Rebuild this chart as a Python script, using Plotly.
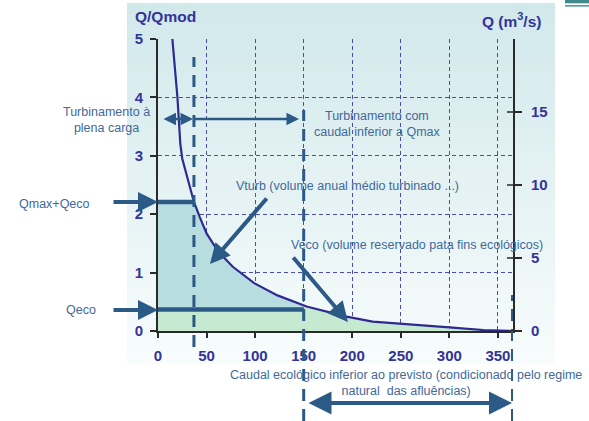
import plotly.graph_objects as go
import numpy as np

# ---------------- data ----------------
days = [12.2, 14.8, 18, 20, 21.5, 23, 25, 29, 37, 43, 50, 62, 77, 99, 123, 153, 174, 194, 221, 249, 300, 335, 365]
q_rel = [5.5, 5.0, 4.5, 4.0, 3.6, 3.2, 2.95, 2.7, 2.21, 1.95, 1.67, 1.36, 1.10, 0.82, 0.61, 0.42, 0.33, 0.245, 0.16, 0.13, 0.063, 0.017, 0.0]
q_eco = 0.37          # Qeco (relative)
q_max_eco = 2.21      # Qmax+Qeco (relative)
t_full = 37           # end of full-load turbining (days)
t_eco = 150           # end of full ecological flow (days)
t_end = 365
x_ticks = [0, 50, 100, 150, 200, 250, 300, 350]
y_ticks = [0, 1, 2, 3, 4, 5]
y2_ticks = [0, 5, 10, 15]
q_scale = 4.0         # Q (m3/s) per unit Q/Qmod

# ---------------- layout helpers ----------------
W, H = 589, 421
L, R, T, B = 158, 76, 39, 90
PW, PH = W - L - R, H - T - B
def px(x):
    return (x - L) / PW
def py(y):
    return (H - B - y) / PH

TXT = "#41699c"
DARK = "#2c5a86"
AX = "#33339a"
FONT = "Liberation Sans, Arial, sans-serif"

d = np.array(days, float)
q = np.array(q_rel, float)
q_at_eco = float(np.interp(t_eco, d, q))

fig = go.Figure()

# teal area (Vturb)
mask = (d >= t_full) & (d < t_eco)
tx = [0, 0] + list(d[mask]) + [t_eco, t_eco]
ty = [q_eco, q_max_eco] + list(q[mask]) + [q_at_eco, q_eco]
fig.add_trace(go.Scatter(x=tx, y=ty, fill="toself", fillcolor="#b8dde1",
                         mode="none", hoverinfo="skip", showlegend=False))
# green area (Veco)
mask2 = d > t_eco
gx = [0, 0, t_eco, t_eco] + list(d[mask2])
gy = [0, q_eco, q_eco, q_at_eco] + list(q[mask2])
fig.add_trace(go.Scatter(x=gx, y=gy, fill="toself", fillcolor="#c6e9d1",
                         mode="none", hoverinfo="skip", showlegend=False))
# duration curve
fig.add_trace(go.Scatter(x=days, y=q_rel, mode="lines",
                         line=dict(color="#2e2a91", width=2.2),
                         hoverinfo="skip", showlegend=False))
# level lines
fig.add_trace(go.Scatter(x=[0, t_full], y=[q_max_eco, q_max_eco], mode="lines",
                         line=dict(color=DARK, width=4.5), hoverinfo="skip", showlegend=False))
fig.add_trace(go.Scatter(x=[0, t_eco], y=[q_eco, q_eco], mode="lines",
                         line=dict(color=DARK, width=4.5), hoverinfo="skip", showlegend=False))
# secondary axis carrier
fig.add_trace(go.Scatter(x=[t_end], y=[0], yaxis="y2", mode="markers",
                         marker=dict(opacity=0), hoverinfo="skip", showlegend=False))

shapes = []
# gradient panel
n = 36
y0p, y1p = 3, 363
c0 = np.array([210, 233, 236]); c1 = np.array([248, 252, 252])
for i in range(n):
    a = y0p + (y1p - y0p) * i / n
    b = y0p + (y1p - y0p) * (i + 1) / n + 0.6
    c = c0 + (c1 - c0) * (i / (n - 1))
    shapes.append(dict(type="rect", xref="paper", yref="paper",
                       x0=px(127), x1=px(555), y0=py(b), y1=py(a),
                       fillcolor="rgb(%d,%d,%d)" % tuple(c.astype(int)),
                       line=dict(width=0), layer="below"))
# decoration top right
shapes.append(dict(type="rect", xref="paper", yref="paper", x0=px(565), x1=px(589),
                   y0=py(3.3), y1=py(0), fillcolor="#3f8b8d", line=dict(width=0)))
shapes.append(dict(type="rect", xref="paper", yref="paper", x0=px(565), x1=px(589),
                   y0=py(6.7), y1=py(5), fillcolor="#5aa0a2", line=dict(width=0)))
# dashed verticals
for xv, top, bot in [(t_full, 57, 347), (t_eco, 110, 421), (t_end, 295, 421)]:
    shapes.append(dict(type="line", xref="x", yref="paper", x0=xv, x1=xv,
                       y0=py(bot), y1=py(top),
                       line=dict(color=DARK, width=3, dash="12px,8px")))
# right axis ticks crossing inward
for v in y2_ticks:
    shapes.append(dict(type="line", xref="paper", yref="y2", x0=1 - 6 / PW, x1=1, y0=v, y1=v,
                       line=dict(color="#2a2a2a", width=1.5)))

ann = []
def text(x, y, s, size=12.5, color=TXT, xanchor="center", align="center"):
    ann.append(dict(xref="paper", yref="paper", x=px(x), y=py(y), text=s, showarrow=False,
                    xanchor=xanchor, yanchor="middle", align=align,
                    font=dict(family=FONT, size=size, color=color)))

text(165, 16, "<b>Q/Qmod</b>", size=15.5, color=AX)
text(511, 20, "<b>Q (m<sup>3</sup>/s)</b>", size=15.5, color=AX)
text(106, 120.5, "Turbinamento à<br>plena carga")
text(377, 123.5, "Turbinamento com<br>caudal inferior a Qmax")
text(54.5, 204, "Qmax+Qeco")
text(80.5, 310, "Qeco")
text(347.5, 185.7, "Vturb (volume anual médio turbinado ...)")
text(416.5, 245, "Veco (volume reservado pata fins ecológicos)")
text(406, 383, "Caudal ecológico inferior ao previsto (condicionado pelo regime<br>natural  das afluências)")

def arrow(hx, hy, tx_, ty_, width=4, size=1.0, head=2, both=False):
    a = dict(xref="paper", yref="paper", x=px(hx), y=py(hy), ax=tx_ - hx, ay=ty_ - hy,
             text="", showarrow=True, arrowhead=head, arrowsize=size, arrowwidth=width,
             arrowcolor=DARK)
    if both:
        a.update(arrowside="end+start", startarrowhead=head, startarrowsize=size)
    ann.append(a)

arrow(158, 202, 112, 202)
arrow(158, 310, 112, 310)
arrow(210, 264, 268, 197)
arrow(348, 322, 292, 256)
arrow(193, 119, 162, 119, width=2.5, both=True)
arrow(299, 119, 193, 119, width=2.5)
arrow(512, 403, 307, 403, width=4, size=1.15, both=True)

axis_font = dict(family=FONT, size=15, color=AX, weight="bold")
fig.update_layout(
    width=W, height=H,
    margin=dict(l=L, r=R, t=T, b=B, pad=0),
    paper_bgcolor="white", plot_bgcolor="rgba(0,0,0,0)",
    shapes=shapes, annotations=ann,
    xaxis=dict(range=[0, 365.5], tickvals=x_ticks, showgrid=True,
               gridcolor="#4b4bb0", griddash="4px,3px", gridwidth=1,
               showline=True, linecolor="#2a2a2a", linewidth=2, zeroline=False,
               ticks="outside", ticklen=5, tickcolor="#2a2a2a", tickwidth=1.5,
               tickfont=axis_font, ticklabelstandoff=5),
    yaxis=dict(range=[0, 5], tickvals=y_ticks, showgrid=True,
               gridcolor="#4b4bb0", griddash="4px,3px", gridwidth=1,
               showline=True, linecolor="#2a2a2a", linewidth=2, zeroline=False,
               ticks="outside", ticklen=6, tickcolor="#2a2a2a", tickwidth=1.5,
               tickfont=axis_font, ticklabelstandoff=4),
    yaxis2=dict(range=[0, 5 * q_scale], tickvals=y2_ticks, overlaying="y", side="right",
                showgrid=False, showline=True, linecolor="#2a2a2a", linewidth=2, zeroline=False,
                ticks="outside", ticklen=7, tickcolor="#2a2a2a", tickwidth=1.5,
                tickfont=axis_font, ticklabelstandoff=6),
)

fig.write_html("out.html", config={"displayModeBar": False},
               post_script="document.body.style.margin='0';document.body.style.overflow='hidden';")
